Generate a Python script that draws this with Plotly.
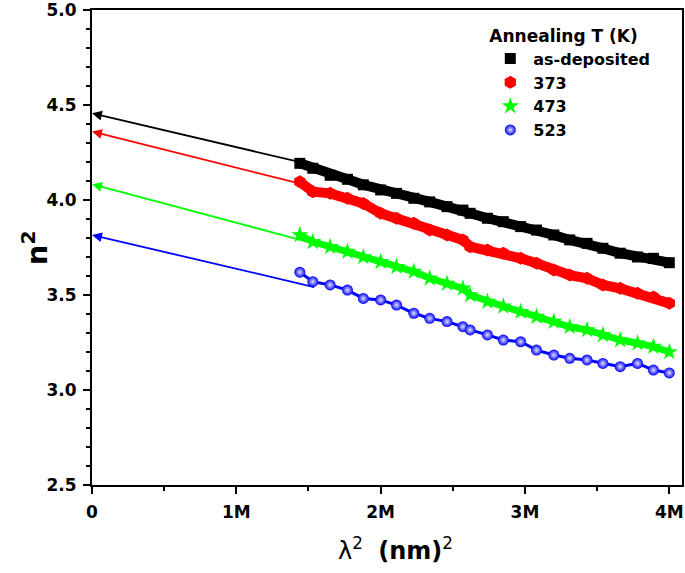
import plotly.graph_objects as go

# ---- data (lambda^2 in units of 1e6 nm^2, n^2) ----
x_M = [1.44, 1.53, 1.65, 1.77, 1.88, 2.00, 2.11, 2.23, 2.34, 2.46, 2.57, 2.62,
       2.74, 2.85, 2.97, 3.08, 3.20, 3.31, 3.43, 3.54, 3.66, 3.78, 3.89, 4.00]
n2_asdep = [4.193, 4.167, 4.130, 4.109, 4.080, 4.053, 4.035, 4.009, 3.990, 3.965, 3.947, 3.930,
            3.904, 3.886, 3.860, 3.842, 3.816, 3.790, 3.772, 3.746, 3.720, 3.700, 3.693, 3.670]
n2_373 = [4.096, 4.044, 4.035, 4.009, 3.982, 3.930, 3.904, 3.877, 3.842, 3.816, 3.790, 3.754,
          3.737, 3.720, 3.693, 3.667, 3.632, 3.605, 3.588, 3.553, 3.535, 3.509, 3.490, 3.456]
n2_473 = [3.816, 3.780, 3.754, 3.728, 3.700, 3.675, 3.649, 3.623, 3.588, 3.560, 3.535, 3.500,
          3.465, 3.440, 3.412, 3.386, 3.360, 3.333, 3.316, 3.290, 3.263, 3.246, 3.228, 3.200]
n2_523 = [3.620, 3.570, 3.553, 3.526, 3.482, 3.474, 3.447, 3.404, 3.377, 3.360, 3.333, 3.316,
          3.290, 3.263, 3.254, 3.210, 3.184, 3.167, 3.158, 3.140, 3.123, 3.140, 3.105, 3.090]

series_names = ["as-deposited", "373", "473", "523"]
series_values = [n2_asdep, n2_373, n2_473, n2_523]
fit_intercepts = [4.456, 4.360, 4.083, 3.816]
fit_slopes = [-0.178, -0.190, -0.203, -0.178]   # per 1e6 nm^2
fit_start_M = 1.55

x_tick_vals_M = [0, 1, 2, 3, 4]
x_tick_labels = ["0", "1M", "2M", "3M", "4M"]
y_tick_vals = [2.5, 3.0, 3.5, 4.0, 4.5, 5.0]
y_tick_labels = ["2.5", "3.0", "3.5", "4.0", "4.5", "5.0"]

colors = ["#000000", "#ff0000", "#00ff00", "#0000ff"]
symbols = ["square", "hexagon", "star", "circle"]
msizes = [11, 13, 13, 11]
lwidths = [10, 10, 7, 3]

FONT = "DejaVu Sans"
x_vals = [v * 1e6 for v in x_M]

fig = go.Figure()
for name, vals, c, s, ms, lw in zip(series_names, series_values, colors, symbols, msizes, lwidths):
    fig.add_trace(go.Scatter(x=x_vals, y=vals, mode="lines", line=dict(color=c, width=lw),
                             showlegend=False, hoverinfo="skip"))
    marker = dict(symbol=s, size=ms, color=c, line=dict(width=0))
    if s == "circle":
        marker = dict(symbol=s, size=ms, color=c, line=dict(width=0),
                      gradient=dict(type="radial", color="#e0e0ff"))
    fig.add_trace(go.Scatter(x=x_vals, y=vals, mode="markers", marker=marker,
                             name="<b>" + name + "</b>"))

# fit lines as arrows pointing to the intercept at lambda^2 = 0
for b, m, c in zip(fit_intercepts, fit_slopes, colors):
    fig.add_annotation(x=0, y=b, xref="x", yref="y",
                       ax=fit_start_M * 1e6, ay=b + m * fit_start_M, axref="x", ayref="y",
                       text="", showarrow=True, arrowhead=2, arrowsize=1.1,
                       arrowwidth=1.8, arrowcolor=c)

fig.add_annotation(text="<b>n<sup>2</sup></b>", xref="paper", yref="paper",
                   x=-0.097, y=0.5, xanchor="center", yanchor="middle",
                   textangle=-90, showarrow=False,
                   font=dict(family=FONT, size=29, color="black"))
fig.add_annotation(text="λ<sup>2</sup>  <b>(nm)</b><sup>2</sup>", xref="paper", yref="paper",
                   x=0.515, y=-0.135, xanchor="center", yanchor="middle", showarrow=False,
                   font=dict(family=FONT, size=24, color="black"))

axis_common = dict(showline=True, linecolor="black", linewidth=2, mirror=True,
                   ticks="outside", ticklen=7, tickwidth=2, tickcolor="black",
                   showgrid=False, zeroline=False, ticklabeloverflow="allow",
                   tickfont=dict(family=FONT, size=17, color="black", weight="bold"))

fig.update_xaxes(range=[0, 4.088e6], tickvals=[v * 1e6 for v in x_tick_vals_M],
                 ticktext=x_tick_labels, ticklabelstandoff=4,
                 minor=dict(dtick=0.5e6, ticks="outside", ticklen=4, tickwidth=2, tickcolor="black"),
                 **axis_common)
fig.update_yaxes(range=[2.5, 5.0], tickvals=y_tick_vals, ticktext=y_tick_labels,
                 ticklabelstandoff=3,
                 minor=dict(dtick=0.1, ticks="outside", ticklen=4, tickwidth=2, tickcolor="black"),
                 **axis_common)

fig.update_layout(
    width=685, height=573,
    margin=dict(l=92, r=3, t=10, b=88, autoexpand=False),
    plot_bgcolor="white", paper_bgcolor="white",
    font=dict(family=FONT, color="black"),
    legend=dict(x=0.67, y=0.98, xanchor="left", yanchor="top",
                bgcolor="rgba(0,0,0,0)", borderwidth=0,
                title=dict(text="<b>Annealing T (K)</b>", font=dict(family=FONT, size=17)),
                font=dict(family=FONT, size=16, color="black"),
                itemwidth=36, tracegroupgap=0),
)

fig.write_html("out.html", config={"displayModeBar": False},
               post_script="document.body.style.margin='0';document.body.style.padding='0';")
